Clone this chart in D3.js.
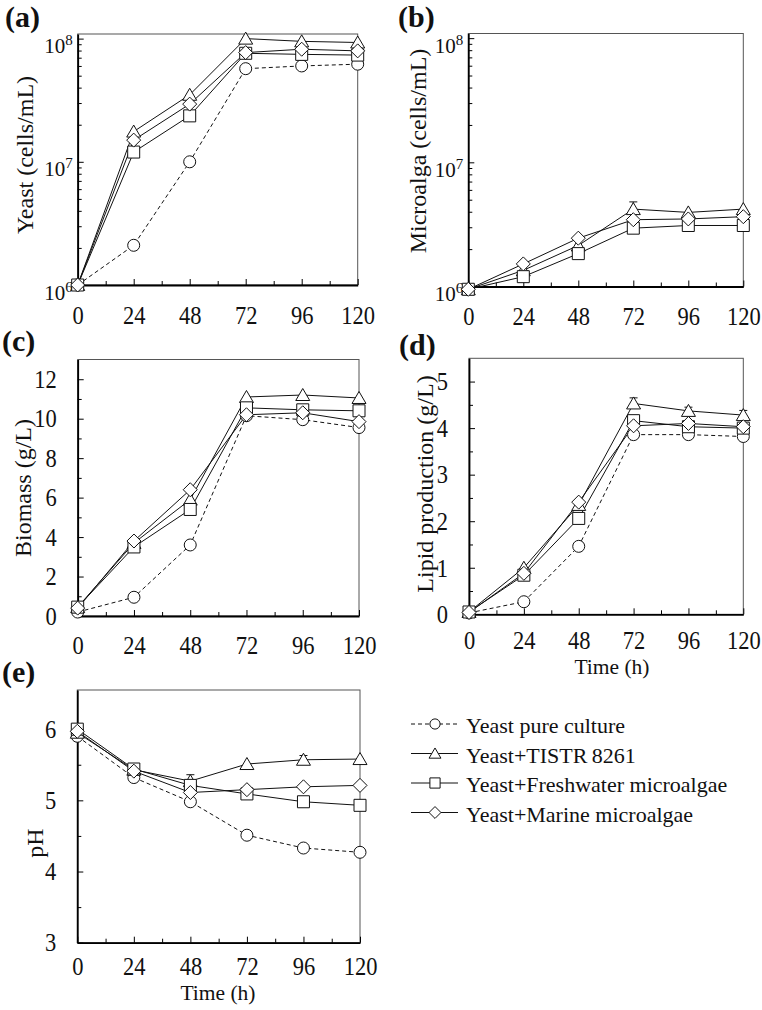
<!DOCTYPE html>
<html>
<head>
<meta charset="utf-8">
<script src="https://cdn.jsdelivr.net/npm/d3@7"></script>
<style>
body { margin: 0; background: #fff; }
svg { display: block; }
text { font-family: "Liberation Serif", "Times New Roman", serif; fill: #111; }
</style>
</head>
<body>
<svg id="fig" width="762" height="1010"></svg>
<script>
// time points (h)
var hours = [0, 24, 48, 72, 96, 120];
var minorHours = [12, 36, 60, 84, 108];

var seriesNames = ["Yeast pure culture", "Yeast+TISTR\u20098261", "Yeast+Freshwater microalgae", "Yeast+Marine microalgae"];
var seriesMarkers = ["circle", "triangle", "square", "diamond"];

// (a) yeast cells/mL  [pure, TISTR, freshwater, marine]
var yeastCells = [
    [1.0e6, 2.1e6, 1.0e7, 5.7e7, 6.0e7, 6.2e7],
    [1.0e6, 1.76e7, 3.5e7, 1.0e8, 9.5e7, 9.3e7],
    [1.0e6, 1.2e7, 2.36e7, 7.6e7, 7.45e7, 7.35e7],
    [1.0e6, 1.5e7, 2.94e7, 7.7e7, 8.2e7, 7.95e7]
];
// (b) microalga cells/mL (no pure culture)
var microalgaCells = [
    null,
    [0.95e6, 1.35e6, 2.14e6, 4.2e6, 3.95e6, 4.2e6],
    [0.95e6, 1.2e6, 1.84e6, 2.95e6, 3.1e6, 3.1e6],
    [0.95e6, 1.52e6, 2.45e6, 3.45e6, 3.5e6, 3.65e6]
];
// (c) biomass g/L
var biomass = [
    [0.2, 0.95, 3.6, 10.15, 9.95, 9.55],
    [0.45, 3.7, 5.9, 11.1, 11.2, 11.05],
    [0.45, 3.5, 5.4, 10.55, 10.45, 10.4],
    [0.4, 3.8, 6.4, 10.2, 10.3, 9.85]
];
// (d) lipid g/L
var lipid = [
    [0.03, 0.27, 1.46, 3.86, 3.86, 3.82],
    [0.05, 1.0, 2.35, 4.53, 4.37, 4.28],
    [0.05, 0.84, 2.06, 4.16, 4.03, 4.0],
    [0.04, 0.88, 2.41, 4.05, 4.1, 4.03]
];
// (e) pH
var pH = [
    [5.9, 5.32, 4.98, 4.51, 4.33, 4.27],
    [5.95, 5.43, 5.27, 5.51, 5.57, 5.58],
    [6.0, 5.44, 5.21, 5.09, 4.98, 4.93],
    [5.97, 5.41, 5.11, 5.15, 5.19, 5.21]
];
// upper error bars of TISTR series
var microalgaTistrErr = [0, 0, 0, 0.6e6, 0, 0];
var lipidTistrErr = [0, 0, 0, 0.12, 0.08, 0.1];
var pHTistrErr = [0, 0, 0.09, 0, 0.06, 0];

var logTicks = [1e6, 1e7, 1e8];
var biomassTicks = [0, 2, 4, 6, 8, 10, 12];
var lipidTicks = [0, 1, 2, 3, 4, 5];
var pHTicks = [3, 4, 5, 6];

var svg = d3.select("#fig");

var panels = [
    {label: "(a)", lx: 5, ly: 27, left: 77.7, right: 357.7, top: 34, bottom: 285, xlab: 39,
     log: true, domain: [1e6, 1.09e8], data: yeastCells,
     title: "Yeast (cells/mL)", tx: 33, ty: 155},
    {label: "(b)", lx: 398, ly: 27, left: 468.3, right: 743.3, top: 33.5, bottom: 286.5, xlab: 38,
     log: true, domain: [1e6, 1.09e8], data: microalgaCells, err: microalgaTistrErr,
     title: "Microalga (cells/mL)", tx: 426, ty: 151},
    {label: "(c)", lx: 2, ly: 351, left: 77.7, right: 359, top: 359.5, bottom: 616, xlab: 38,
     domain: [0, 13], ticks: biomassTicks, minor: [1, 3, 5, 7, 9, 11], data: biomass,
     title: "Biomass (g/L)", tx: 31, ty: 488},
    {label: "(d)", lx: 399, ly: 355, left: 469, right: 743.3, top: 358.3, bottom: 614.3, xlab: 35,
     domain: [0, 5.5], ticks: lipidTicks, minor: [0.5, 1.5, 2.5, 3.5, 4.5], data: lipid, err: lipidTistrErr,
     title: "Lipid production (g/L)", tx: 433, ty: 484, timeX: 612, timeY: 674},
    {label: "(e)", lx: 2, ly: 682, left: 77.3, right: 360, top: 690, bottom: 942.7, xlab: 32,
     domain: [3, 6.55], ticks: pHTicks, minor: [3.5, 4.5, 5.5], data: pH, err: pHTistrErr,
     title: "pH", tx: 43, ty: 843, timeX: 218, timeY: 1000}
];

function markerPath(type, k) {
    k = k || 1;
    if (type === "circle") return d3.symbol(d3.symbolCircle, Math.PI * 36 * k * k)();
    if (type === "triangle") return "M0," + (-6.5 * k) + "L" + (7 * k) + "," + (5.5 * k) + "L" + (-7 * k) + "," + (5.5 * k) + "Z";
    if (type === "square") return "M" + (-6 * k) + "," + (-6 * k) + "h" + (12 * k) + "v" + (12 * k) + "h" + (-12 * k) + "Z";
    return "M0," + (-7 * k) + "L" + (7 * k) + ",0L0," + (7 * k) + "L" + (-7 * k) + ",0Z";
}

function drawPanel(p) {
    var x = d3.scaleLinear().domain([0, 120]).range([p.left, p.right]);
    var y = (p.log ? d3.scaleLog() : d3.scaleLinear()).domain(p.domain).range([p.bottom, p.top]);
    var g = svg.append("g");

    g.append("rect")
        .attr("x", p.left).attr("y", p.top)
        .attr("width", p.right - p.left).attr("height", p.bottom - p.top)
        .attr("fill", "none").attr("stroke", "#555").attr("stroke-width", 1);

    // x axis
    var xg = g.append("g")
        .attr("transform", "translate(0," + p.bottom + ")")
        .call(d3.axisBottom(x).tickValues(hours).tickSizeInner(-6).tickSizeOuter(0));
    xg.select(".domain").attr("stroke", "#000").attr("stroke-width", 1.8);
    xg.selectAll(".tick text")
        .attr("y", 0).attr("dy", null)
        .attr("transform", "translate(0," + p.xlab + ") scale(1,1.08)")
        .style("font-size", "22.5px");
    g.append("g")
        .attr("transform", "translate(0," + p.bottom + ")")
        .call(d3.axisBottom(x).tickValues(minorHours).tickSizeInner(-4).tickSizeOuter(0).tickFormat(""))
        .select(".domain").remove();

    // y axis
    var yg = g.append("g").attr("transform", "translate(" + p.left + ",0)");
    if (p.log) {
        yg.call(d3.axisLeft(y).tickValues(logTicks).tickSizeInner(-6).tickSizeOuter(0).tickFormat(""));
        yg.selectAll(".tick text").each(function(d) {
            var t = d3.select(this).attr("x", -5).attr("y", 14).attr("dy", null);
            t.append("tspan").text("10").style("font-size", "21px");
            t.append("tspan").text(Math.round(Math.log10(d))).attr("dy", -8).style("font-size", "15px");
        });
        var minors = [];
        [1e6, 1e7].forEach(function(dec) {
            for (var m = 2; m <= 9; m++) minors.push(m * dec);
        });
        g.append("g").attr("transform", "translate(" + p.left + ",0)")
            .call(d3.axisLeft(y).tickValues(minors).tickSizeInner(-4).tickSizeOuter(0).tickFormat(""))
            .select(".domain").remove();
    } else {
        yg.call(d3.axisLeft(y).tickValues(p.ticks).tickSizeInner(-6).tickSizeOuter(0).tickFormat(d3.format("d")));
        yg.selectAll(".tick text")
            .attr("x", -21).attr("dy", "0.34em")
            .attr("transform", "scale(1,1.08)")
            .attr("y", 0)
            .style("font-size", "22.5px");
        g.append("g").attr("transform", "translate(" + p.left + ",0)")
            .call(d3.axisLeft(y).tickValues(p.minor).tickSizeInner(-4).tickSizeOuter(0).tickFormat(""))
            .select(".domain").remove();
    }
    yg.select(".domain").attr("stroke", "#000").attr("stroke-width", 1.8);
    g.selectAll(".tick line").attr("stroke", "#000");

    // lines
    var line = d3.line()
        .x(function(v, i) { return x(hours[i]); })
        .y(function(v) { return y(v); });
    p.data.forEach(function(series, s) {
        if (!series) return;
        g.append("path")
            .attr("d", line(series))
            .attr("fill", "none")
            .attr("stroke", "#111")
            .attr("stroke-width", 1)
            .attr("stroke-dasharray", s === 0 ? "4,3" : null);
    });

    // error bars on TISTR series
    if (p.err) {
        p.err.forEach(function(e, i) {
            if (!e) return;
            var v = p.data[1][i];
            var cx = x(hours[i]);
            g.append("line").attr("x1", cx).attr("x2", cx)
                .attr("y1", y(v)).attr("y2", y(v + e))
                .attr("stroke", "#111").attr("stroke-width", 1);
            g.append("line").attr("x1", cx - 4).attr("x2", cx + 4)
                .attr("y1", y(v + e)).attr("y2", y(v + e))
                .attr("stroke", "#111").attr("stroke-width", 1);
        });
    }

    // markers
    p.data.forEach(function(series, s) {
        if (!series) return;
        g.selectAll(".m" + s)
            .data(series)
            .enter()
            .append("path")
            .attr("class", "m" + s)
            .attr("d", markerPath(seriesMarkers[s]))
            .attr("transform", function(v, i) { return "translate(" + x(hours[i]) + "," + y(v) + ")"; })
            .attr("fill", "#fff")
            .attr("stroke", "#111")
            .attr("stroke-width", 1);
    });

    // labels
    svg.append("text")
        .attr("x", p.lx).attr("y", p.ly)
        .style("font-size", "30px").style("font-weight", "bold")
        .text(p.label);
    svg.append("text")
        .attr("transform", "translate(" + p.tx + "," + p.ty + ") rotate(-90)")
        .attr("text-anchor", "middle")
        .style("font-size", "24px")
        .text(p.title);
    if (p.timeX) {
        svg.append("text")
            .attr("x", p.timeX).attr("y", p.timeY)
            .attr("text-anchor", "middle")
            .style("font-size", "21.5px")
            .text("Time (h)");
    }
}

panels.forEach(drawPanel);

// legend
var legend = svg.append("g");
seriesNames.forEach(function(name, s) {
    var cy = 724 + 29.5 * s;
    legend.append("line")
        .attr("x1", 411).attr("x2", 458)
        .attr("y1", cy).attr("y2", cy)
        .attr("stroke", "#111").attr("stroke-width", 1)
        .attr("stroke-dasharray", s === 0 ? "4,3" : null);
    legend.append("path")
        .attr("d", markerPath(seriesMarkers[s], 0.85))
        .attr("transform", "translate(435," + cy + ")")
        .attr("fill", "#fff").attr("stroke", "#111").attr("stroke-width", 1);
    legend.append("text")
        .attr("x", 466).attr("y", cy + 9)
        .style("font-size", "22px")
        .text(name);
});
</script>
</body>
</html>
